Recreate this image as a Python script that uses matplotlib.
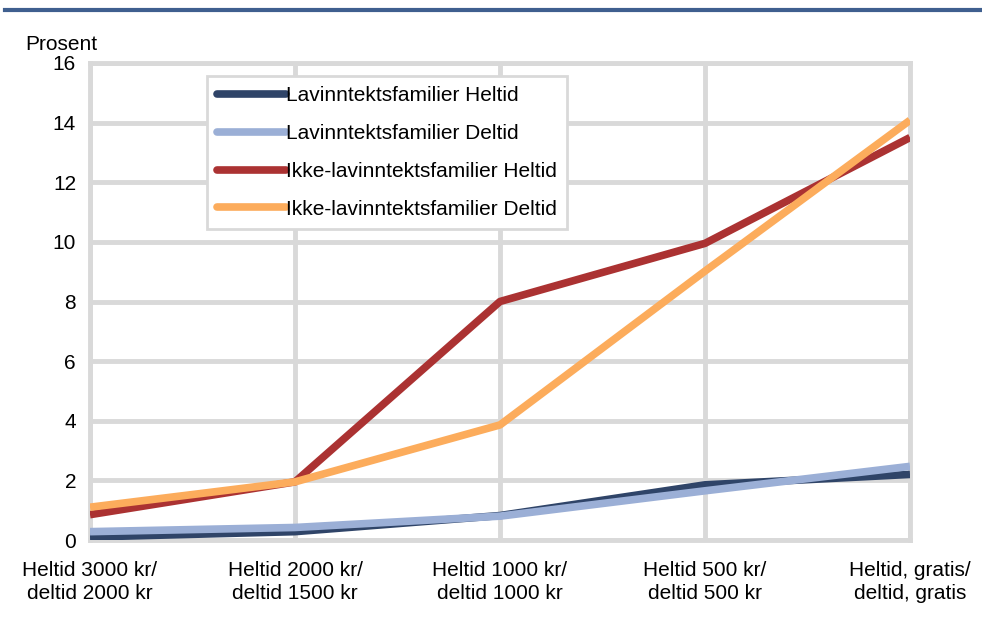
import matplotlib
matplotlib.use("Agg")
import matplotlib.pyplot as plt
from matplotlib.lines import Line2D

plt.rcParams["font.family"] = ["Liberation Sans", "DejaVu Sans"]

categories = [
    "Heltid 3000 kr/\ndeltid 2000 kr",
    "Heltid 2000 kr/\ndeltid 1500 kr",
    "Heltid 1000 kr/\ndeltid 1000 kr",
    "Heltid 500 kr/\ndeltid 500 kr",
    "Heltid, gratis/\ndeltid, gratis",
]
lav_heltid = [0.1, 0.28, 0.82, 1.85, 2.2]
lav_deltid = [0.28, 0.42, 0.8, 1.65, 2.47]
ikke_heltid = [0.85, 1.95, 8.0, 9.95, 13.5]
ikke_deltid = [1.1, 1.95, 3.86, 9.02, 14.08]

series = [
    ("Lavinntektsfamilier Heltid", lav_heltid, "#2f4468"),
    ("Lavinntektsfamilier Deltid", lav_deltid, "#9bafd6"),
    ("Ikke-lavinntektsfamilier Heltid", ikke_heltid, "#ab3232"),
    ("Ikke-lavinntektsfamilier Deltid", ikke_deltid, "#fcac5c"),
]

FS = 15

fig = plt.figure(figsize=(9.82, 6.17), dpi=100)
ax = fig.add_axes([90 / 982, 1 - 540 / 617, 820 / 982, 477 / 617])

x = list(range(len(categories)))
for name, vals, col in series:
    ax.plot(x, vals, color=col, linewidth=5.5, label=name, solid_capstyle="butt",
            zorder=3)

ax.set_xlim(0, len(categories) - 1)
ax.set_ylim(0, 16)
ax.set_yticks(range(0, 17, 2))
ax.set_xticks(x)
ax.set_xticklabels(categories, fontsize=FS, linespacing=1.3)
ax.tick_params(axis="y", labelsize=FS, length=0, pad=10)
ax.tick_params(axis="x", length=0, pad=15)
ax.grid(True, color="#d9d9d9", linewidth=3.5)
ax.set_axisbelow(True)
for s in ax.spines.values():
    s.set_color("#d9d9d9")
    s.set_linewidth(3.5)

fig.text(25 / 982, 1 - 45 / 617, "Prosent", fontsize=FS, va="center", ha="left")

# blue rule under the (cropped) title
fig.add_artist(Line2D([0.005, 1.0], [1 - 10 / 617, 1 - 10 / 617],
                      color="#3f5f8f", linewidth=3, transform=fig.transFigure))

leg = ax.legend(loc="upper left", bbox_to_anchor=(117 / 820, 1 - 13 / 477),
                fontsize=FS, frameon=True, fancybox=False, handlelength=3.3,
                handletextpad=0.0, labelspacing=0.9, borderpad=0.5,
                borderaxespad=0)
for h in leg.get_lines():
    h.set_solid_capstyle("round")
leg.get_frame().set_edgecolor("#d9d9d9")
leg.get_frame().set_linewidth(2)
leg.get_frame().set_facecolor("white")
leg.get_frame().set_alpha(1)

fig.savefig("out.png", dpi=100)
